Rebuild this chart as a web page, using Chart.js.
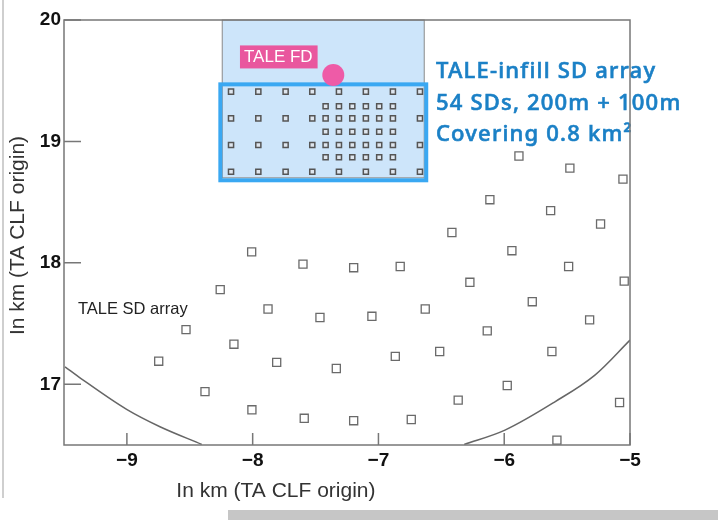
<!DOCTYPE html>
<html>
<head>
<meta charset="utf-8">
<script src="https://cdn.jsdelivr.net/npm/chart.js@4.4.1/dist/chart.umd.min.js"></script>
<style>
html, body { margin: 0; padding: 0; background: #fff; }
#wrap { position: relative; width: 718px; height: 520px; overflow: hidden; }
#wrap canvas { position: absolute; left: 0; top: 0; }
#edge { position: absolute; left: 2px; top: 0; width: 2px; height: 498px; background: #cfcfcf; }
#strip { position: absolute; left: 228px; top: 510px; width: 490px; height: 10px; background: #c6c6c6; }
</style>
</head>
<body>
<div id="wrap">
  <canvas id="siteChart" width="718" height="520"></canvas>
  <div id="edge"></div>
  <div id="strip"></div>
</div>
<script>
// axes
const xRange = [-9.5, -5];
const yRange = [16.5, 20];
const xTicks = [-9, -8, -7, -6, -5];
const yTicks = [17, 18, 19, 20];

// TALE SD array detectors (km)
const taleSdX = [-8.008, -7.600, -7.197, -8.258, -7.878, -7.465, -8.530, -8.149, -8.747, -7.809,
                 -7.335, -8.379, -8.006, -7.590, -7.197, -7.052, -5.883, -5.478, -5.056, -6.114,
                 -5.631, -5.234, -6.416, -5.939, -6.827, -5.488, -6.273, -5.046, -6.628, -5.777,
                 -5.321, -6.135, -6.866, -6.513, -5.621, -5.976, -6.366, -5.083, -6.739, -5.581];
const taleSdY = [18.09, 17.99, 17.96, 17.78, 17.62, 17.55, 17.45, 17.33, 17.19, 17.18,
                 17.13, 16.94, 16.79, 16.72, 16.70, 17.56, 18.88, 18.78, 18.69, 18.52,
                 18.43, 18.32, 18.25, 18.10, 17.97, 17.97, 17.84, 17.85, 17.62, 17.68,
                 17.53, 17.44, 17.23, 17.27, 17.27, 16.99, 16.87, 16.85, 16.71, 16.54];

// TALE-infill SD array detectors (km)
const infillX = [
  -8.172, -7.955, -7.738, -7.526, -7.314, -7.100, -6.885, -6.670,
  -7.420, -7.314, -7.208, -7.100, -6.994, -6.885,
  -8.172, -7.955, -7.738, -7.526, -7.420, -7.314, -7.208, -7.100, -6.994, -6.885, -6.670,
  -7.420, -7.314, -7.208, -7.100, -6.994, -6.885,
  -8.172, -7.955, -7.738, -7.526, -7.420, -7.314, -7.208, -7.100, -6.994, -6.885, -6.670,
  -7.420, -7.314, -7.208, -7.100, -6.994, -6.885,
  -8.172, -7.955, -7.738, -7.526, -7.314, -7.100, -6.885, -6.670
];
const infillY = [
  19.41, 19.41, 19.41, 19.41, 19.41, 19.41, 19.41, 19.41,
  19.29, 19.29, 19.29, 19.29, 19.29, 19.29,
  19.19, 19.19, 19.19, 19.19, 19.19, 19.19, 19.19, 19.19, 19.19, 19.19, 19.19,
  19.08, 19.08, 19.08, 19.08, 19.08, 19.08,
  18.97, 18.97, 18.97, 18.97, 18.97, 18.97, 18.97, 18.97, 18.97, 18.97, 18.97,
  18.87, 18.87, 18.87, 18.87, 18.87, 18.87,
  18.75, 18.75, 18.75, 18.75, 18.75, 18.75, 18.75, 18.75
];

// TALE FD position
const fdX = [-7.359];
const fdY = [19.547];

// boundary curves
const leftArcX = [-9.492, -9.359, -9.002, -8.737, -8.405];
const leftArcY = [17.144, 17.043, 16.793, 16.650, 16.505];
const rightArcX = [-6.318, -5.994, -5.597, -5.279, -5.000];
const rightArcY = [16.505, 16.623, 16.856, 17.076, 17.364];

// shaded regions [min, max]
const fdViewX = [-8.242, -6.636];
const fdViewY = [18.70, 20.0];
const infillBoxX = [-8.257, -6.620];
const infillBoxY = [18.68, 19.47];

const zip = (xs, ys) => xs.map((v, i) => ({x: v, y: ys[i]}));
const fmt = v => String(v).replace('-', '\u2212');
const AXIS = '#777777';
const SANS = '"Liberation Sans", Arial, sans-serif';

const overlay = {
  id: 'overlay',
  beforeDatasetsDraw(chart) {
    const {ctx, scales: {x, y}} = chart;
    ctx.save();
    // FD field of view
    let l = x.getPixelForValue(fdViewX[0]), r = x.getPixelForValue(fdViewX[1]);
    let t = y.getPixelForValue(fdViewY[1]), b = y.getPixelForValue(fdViewY[0]);
    ctx.fillStyle = '#cde5fa';
    ctx.fillRect(l, t, r - l, b - t);
    ctx.strokeStyle = '#8a8a8a';
    ctx.lineWidth = 1;
    ctx.strokeRect(l, t, r - l, b - t);
    // infill box
    l = x.getPixelForValue(infillBoxX[0]); r = x.getPixelForValue(infillBoxX[1]);
    t = y.getPixelForValue(infillBoxY[1]); b = y.getPixelForValue(infillBoxY[0]);
    ctx.strokeStyle = '#3aa8f2';
    ctx.lineWidth = 4;
    ctx.strokeRect(l, t, r - l, b - t);
    ctx.restore();
  },
  afterDatasetsDraw(chart) {
    const {ctx, chartArea: a, scales: {x, y}} = chart;
    ctx.save();

    // text labels
    ctx.textBaseline = 'middle';
    ctx.textAlign = 'left';
    ctx.fillStyle = '#222';
    ctx.font = '16.5px ' + SANS;
    ctx.fillText('TALE SD array', x.getPixelForValue(-9.389), y.getPixelForValue(17.62));

    // FD label
    ctx.font = '17px ' + SANS;
    const fx = x.getPixelForValue(-8.101), fy = y.getPixelForValue(19.70);
    const w = ctx.measureText('TALE FD').width;
    ctx.fillStyle = '#e9579e';
    ctx.fillRect(fx, fy - 11, w + 9, 23);
    ctx.fillStyle = '#ffffff';
    ctx.fillText('TALE FD', fx + 4, fy + 1);

    // infill description (thin stroke gives a medium weight)
    ctx.fillStyle = '#1b80c6';
    ctx.strokeStyle = '#1b80c6';
    ctx.lineWidth = 0.6;
    ctx.font = '500 22px "Noto Sans", sans-serif';
    ctx.letterSpacing = '1.2px';
    const bx = x.getPixelForValue(-6.543);
    [['TALE-infill SD array', 19.572], ['54 SDs, 200m + 100m', 19.312], ['Covering 0.8 km\u00b2', 19.053]]
      .forEach(([txt, v]) => {
        const py = y.getPixelForValue(v);
        ctx.fillText(txt, bx, py);
        ctx.strokeText(txt, bx, py);
      });
    ctx.letterSpacing = '0px';

    // frame and inner ticks
    ctx.strokeStyle = AXIS;
    ctx.lineWidth = 1.5;
    ctx.strokeRect(a.left, a.top, a.right - a.left, a.bottom - a.top);
    ctx.beginPath();
    xTicks.forEach(v => {
      const px = x.getPixelForValue(v);
      ctx.moveTo(px, a.bottom);
      ctx.lineTo(px, a.bottom - 12);
    });
    yTicks.forEach(v => {
      const py = y.getPixelForValue(v);
      ctx.moveTo(a.left, py);
      ctx.lineTo(a.left + 17, py);
    });
    ctx.stroke();

    // axis titles
    ctx.fillStyle = '#333';
    ctx.font = '21px ' + SANS;
    ctx.textAlign = 'center';
    ctx.fillText('In km (TA CLF origin)', x.getPixelForValue(-7.815), a.bottom + 46);
    ctx.translate(18, (a.top + a.bottom) / 2 + 3);
    ctx.rotate(-Math.PI / 2);
    ctx.fillText('In km (TA CLF origin)', 0, 0);
    ctx.restore();
  }
};

new Chart(document.getElementById('siteChart'), {
  type: 'scatter',
  data: {
    datasets: [{
      label: 'TALE SD',
      data: zip(taleSdX, taleSdY),
      pointStyle: 'rect',
      pointRadius: 5.7,
      borderColor: '#6a6a6a',
      borderWidth: 1.3,
      backgroundColor: '#ffffff'
    }, {
      label: 'TALE-infill SD',
      data: zip(infillX, infillY),
      pointStyle: 'rect',
      pointRadius: 3.6,
      borderColor: '#555555',
      borderWidth: 1.5,
      backgroundColor: '#dfe6ee'
    }, {
      label: 'left boundary',
      data: zip(leftArcX, leftArcY),
      showLine: true,
      borderColor: '#666666',
      borderWidth: 1.5,
      pointRadius: 0,
      cubicInterpolationMode: 'monotone'
    }, {
      label: 'right boundary',
      data: zip(rightArcX, rightArcY),
      showLine: true,
      borderColor: '#666666',
      borderWidth: 1.5,
      pointRadius: 0,
      cubicInterpolationMode: 'monotone'
    }, {
      label: 'TALE FD',
      data: zip(fdX, fdY),
      pointRadius: 11,
      borderWidth: 0,
      backgroundColor: '#ee5ba7'
    }]
  },
  options: {
    responsive: false,
    animation: false,
    events: [],
    layout: { padding: { top: 20, right: 88, left: 0, bottom: 0 } },
    plugins: { legend: { display: false }, tooltip: { enabled: false } },
    scales: {
      x: {
        type: 'linear',
        min: xRange[0],
        max: xRange[1],
        afterBuildTicks: s => { s.ticks = xTicks.map(v => ({value: v})); },
        afterFit: s => { s.height = 75; },
        grid: { display: false, drawTicks: false, tickLength: 0 },
        border: { display: false },
        ticks: {
          padding: 4,
          color: '#111',
          font: { family: SANS, size: 19, weight: 'bold' },
          callback: v => fmt(v)
        }
      },
      y: {
        type: 'linear',
        min: yRange[0],
        max: yRange[1],
        afterBuildTicks: s => { s.ticks = yTicks.map(v => ({value: v})); },
        afterFit: s => { s.width = 64; },
        grid: { display: false, drawTicks: false, tickLength: 0 },
        border: { display: false },
        ticks: {
          padding: 3,
          color: '#111',
          font: { family: SANS, size: 19, weight: 'bold' },
          callback: v => fmt(v)
        }
      }
    }
  },
  plugins: [overlay]
});
</script>
</body>
</html>
